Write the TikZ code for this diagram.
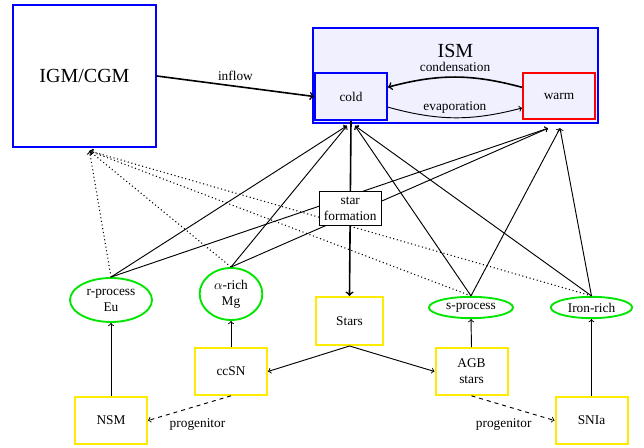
\documentclass[tikz,border=0pt]{standalone}
\usepackage{fontspec}
\setmainfont{Liberation Serif}
\usetikzlibrary{shapes.geometric,calc}
\definecolor{ismfill}{RGB}{240,240,255}
\definecolor{yel}{RGB}{255,235,0}
\definecolor{grn}{RGB}{0,230,0}
\begin{document}
\begin{tikzpicture}[x=0.75pt,y=-0.75pt,
  font=\fontsize{10}{12}\selectfont,
  bigtext/.style={font=\fontsize{15}{18}\selectfont},
  srcbox/.style={draw=yel, line width=1.5pt, minimum width=54pt, minimum height=35pt, align=center, inner sep=0pt},
  elem/.style={ellipse, draw=grn, line width=1.4pt, align=center, inner sep=0pt},
  phase/.style={draw=blue, line width=1.4pt, fill=ismfill, minimum width=54pt, minimum height=35pt, inner sep=0pt},
  flow/.style={->, line width=0.7pt},
  recyc/.style={->, dotted, line width=0.8pt},
  bigflow/.style={->, line width=1.2pt},
  sfbox/.style={draw, fill=white, line width=0.6pt, align=center, minimum width=46pt, minimum height=25pt, inner sep=1pt}]
\useasboundingbox (0,0) rectangle (644,448);
% reservoirs
\node[draw=blue, line width=1.4pt, minimum width=107pt, minimum height=106.5pt, bigtext] (igm) at (84.5,76) {IGM/CGM};
\node[draw=blue, line width=1.4pt, fill=ismfill, minimum width=214pt, minimum height=71pt] (ism) at (455.5,75.5) {};
\node[bigtext] (ismlabel) at (455.5,51) {ISM};
\node[phase] (cold) at (351,96.5) {cold};
\node[phase, draw=red] (warm) at (559,96) {warm};
% sources
\node[srcbox, minimum width=50pt, minimum height=36pt] (stars) at (349.5,321) {Stars};
\node[srcbox] (ccsn) at (231,371.5) {ccSN};
\node[srcbox] (agb) at (471.5,371.5) {AGB\\stars};
\node[srcbox] (nsm) at (111,420.5) {NSM};
\node[srcbox] (snia) at (591.5,420.5) {SNIa};
% elements
\node[elem, minimum width=61.5pt, minimum height=33pt] (rproc) at (111,300) {r-process\\Eu};
\node[elem, minimum width=47pt, minimum height=39pt] (alpha) at (231,294) {$\alpha$-rich\\Mg};
\node[elem, minimum width=63pt, minimum height=16pt] (sproc) at (471,307.5) {s-process};
\node[elem, minimum width=61pt, minimum height=16pt] (iron) at (591.5,307.5) {Iron-rich};
% entry points
\coordinate (coldL) at ($(cold.south)+(-4,5)$);
\coordinate (coldR) at ($(cold.south)+(4,5)$);
\coordinate (warmL) at ($(warm.south)+(-11,8)$);
\coordinate (warmR) at ($(warm.south)+(1,8)$);
\coordinate (igmin) at ($(igm.south)+(5,3)$);
% inflow and phase exchange
\draw[bigflow] (igm.east) -- node[above] {inflow} (cold.west);
\draw[bigflow] ([yshift=6.5pt]warm.west) to[bend right=15] node[above] {condensation} ([yshift=7pt]cold.east);
\draw[flow] ([yshift=-8pt]cold.east) to[bend right=15] node[above] {evaporation} ([yshift=-9pt]warm.west);
% returns to ISM
\draw[flow] (rproc.north) -- (coldL);
\draw[flow] (alpha.north) -- (coldL);
\draw[flow] (sproc.north) -- (coldR);
\draw[flow] (iron.north) -- (coldR);
\draw[flow] (rproc.north) -- (warmL);
\draw[flow] (alpha.north) -- (warmL);
\draw[flow] (sproc.north) -- (warmR);
\draw[flow] (iron.north) -- (warmR);
% outflows to IGM
\draw[recyc] (rproc.north) -- (igmin);
\draw[recyc] (alpha.north) -- (igmin);
\draw[recyc] (sproc.north) -- (igmin);
\draw[recyc] (iron.north) -- (igmin);
% star formation
\draw[bigflow] (cold.south) -- node[sfbox] (sf) {star\\formation} (stars.north);
% stellar channels
\draw[flow] (stars.south) -- (ccsn.east);
\draw[flow] (stars.south) -- (agb.west);
\draw[flow] (nsm.north) -- (rproc.south);
\draw[flow] (ccsn.north) -- (alpha.south);
\draw[flow] (agb.north) -- (sproc.south);
\draw[flow] (snia.north) -- (iron.south);
\draw[flow, dashed] (ccsn.south) -- node[below=4pt, xshift=6pt] {progenitor} (nsm.east);
\draw[flow, dashed] (agb.south) -- node[below=4pt, xshift=-7pt] {progenitor} (snia.west);
\end{tikzpicture}
\end{document}
